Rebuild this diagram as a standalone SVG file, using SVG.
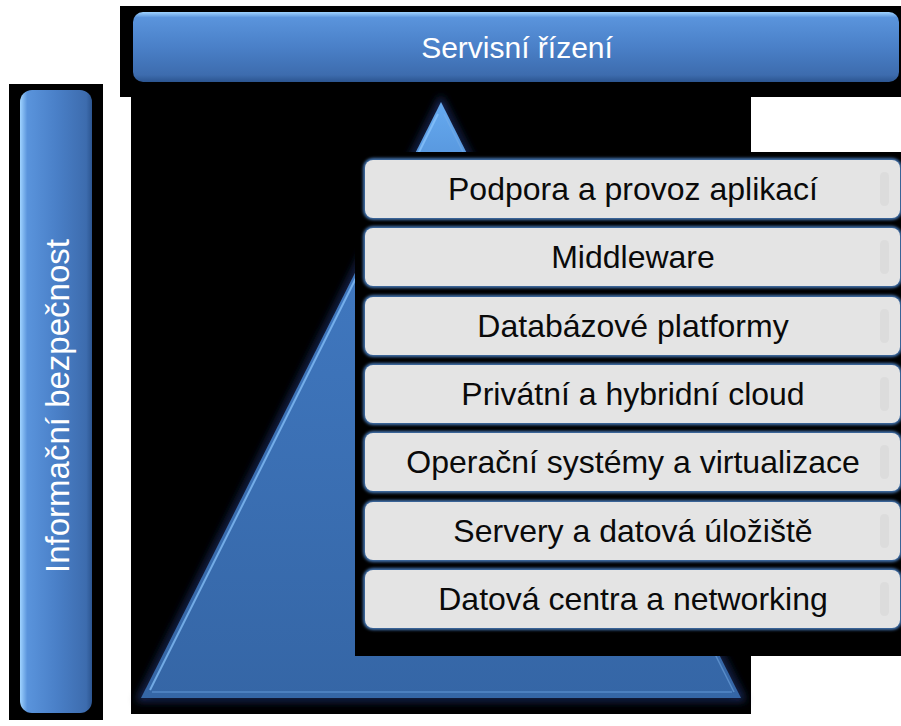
<svg xmlns="http://www.w3.org/2000/svg" width="901" height="726" viewBox="0 0 901 726">
<defs>
<style>
.bg{fill:#000}
.lbl{font-family:"Liberation Sans",Arial,sans-serif;font-size:32px;fill:#0a0a0a;text-anchor:middle}
.wlbl{font-family:"Liberation Sans",Arial,sans-serif;font-size:30px;fill:#fff;text-anchor:middle}
.vlbl{font-family:"Liberation Sans",Arial,sans-serif;font-size:33px;fill:#fff;text-anchor:middle}
.box{fill:#e4e4e4}
.boxglow{fill:none;stroke:#4d86cc;stroke-width:3.5;filter:url(#blur1)}
.shade{fill:#dcdcdc}
</style>
<linearGradient id="hbar" x1="0" y1="0" x2="0" y2="1">
 <stop offset="0" stop-color="#9fd3ff"/>
 <stop offset="0.08" stop-color="#5a94dc"/>
 <stop offset="0.5" stop-color="#4a80c8"/>
 <stop offset="0.9" stop-color="#3d6cae"/>
 <stop offset="1" stop-color="#2c5590"/>
</linearGradient>
<linearGradient id="vbar" x1="0" y1="0" x2="1" y2="0">
 <stop offset="0" stop-color="#9fd3ff"/>
 <stop offset="0.1" stop-color="#5a94dc"/>
 <stop offset="0.5" stop-color="#4a80c8"/>
 <stop offset="0.92" stop-color="#3d6cae"/>
 <stop offset="1" stop-color="#2c5590"/>
</linearGradient>
<linearGradient id="tri" x1="0" y1="0" x2="0" y2="1">
 <stop offset="0" stop-color="#66aaf0"/>
 <stop offset="0.25" stop-color="#4078c0"/>
 <stop offset="1" stop-color="#3566a6"/>
</linearGradient>
<filter id="blur1" x="-5%" y="-20%" width="110%" height="140%"><feGaussianBlur stdDeviation="1.5"/></filter>
<filter id="glow" x="-10%" y="-10%" width="120%" height="120%"><feGaussianBlur stdDeviation="4"/></filter>
</defs>
<rect x="0" y="0" width="901" height="726" fill="#fff"/>

<g id="servisni-rizeni">
 <rect class="bg" x="120" y="6" width="781" height="91"/>
 <rect x="133" y="12" width="766" height="70" rx="10" fill="url(#hbar)"/>
 <text class="wlbl" x="517" y="58">Servisní řízení</text>
</g>

<g id="informacni-bezpecnost">
 <rect class="bg" x="9" y="84" width="94" height="636"/>
 <rect x="20" y="90" width="72" height="623" rx="12" fill="url(#vbar)"/>
 <text class="vlbl" transform="translate(69,406) rotate(-90)" x="0" y="0">Informační bezpečnost</text>
</g>

<g id="pyramid">
 <rect class="bg" x="131" y="97" width="620" height="617"/>
 <polygon points="441,102 741,698 141,698" fill="none" stroke="#1b2f66" stroke-width="6" filter="url(#glow)"/>
 <polygon points="441,102 741,698 141,698" fill="url(#tri)"/>
 <line x1="438" y1="114" x2="150" y2="690" stroke="#8cc8ff" stroke-width="2" opacity="0.7"/>
 <line x1="152" y1="692" x2="732" y2="692" stroke="#5a90d0" stroke-width="2" opacity="0.6"/>
 <line x1="444" y1="114" x2="734" y2="692" stroke="#7ab0e8" stroke-width="1.5" opacity="0.5"/>
</g>

<g id="layers">
 <rect class="bg" x="355" y="152" width="546" height="504"/>
</g>

<g id="layer-1">
 <rect class="boxglow" x="365" y="160" width="535" height="58" rx="8"/>
 <rect class="box" x="365" y="160" width="535" height="58" rx="8"/>
 <rect class="shade" x="880" y="172" width="9" height="34" rx="4.5"/>
 <text class="lbl" x="633" y="200">Podpora a provoz aplikací</text>
</g>
<g id="layer-2">
 <rect class="boxglow" x="365" y="228" width="535" height="58" rx="8"/>
 <rect class="box" x="365" y="228" width="535" height="58" rx="8"/>
 <rect class="shade" x="880" y="240" width="9" height="34" rx="4.5"/>
 <text class="lbl" x="633" y="268">Middleware</text>
</g>
<g id="layer-3">
 <rect class="boxglow" x="365" y="297" width="535" height="58" rx="8"/>
 <rect class="box" x="365" y="297" width="535" height="58" rx="8"/>
 <rect class="shade" x="880" y="309" width="9" height="34" rx="4.5"/>
 <text class="lbl" x="633" y="337">Databázové platformy</text>
</g>
<g id="layer-4">
 <rect class="boxglow" x="365" y="365" width="535" height="58" rx="8"/>
 <rect class="box" x="365" y="365" width="535" height="58" rx="8"/>
 <rect class="shade" x="880" y="377" width="9" height="34" rx="4.5"/>
 <text class="lbl" x="633" y="405">Privátní a hybridní cloud</text>
</g>
<g id="layer-5">
 <rect class="boxglow" x="365" y="433" width="535" height="58" rx="8"/>
 <rect class="box" x="365" y="433" width="535" height="58" rx="8"/>
 <rect class="shade" x="880" y="445" width="9" height="34" rx="4.5"/>
 <text class="lbl" x="633" y="473">Operační systémy a virtualizace</text>
</g>
<g id="layer-6">
 <rect class="boxglow" x="365" y="502" width="535" height="58" rx="8"/>
 <rect class="box" x="365" y="502" width="535" height="58" rx="8"/>
 <rect class="shade" x="880" y="514" width="9" height="34" rx="4.5"/>
 <text class="lbl" x="633" y="542">Servery a datová úložiště</text>
</g>
<g id="layer-7">
 <rect class="boxglow" x="365" y="570" width="535" height="58" rx="8"/>
 <rect class="box" x="365" y="570" width="535" height="58" rx="8"/>
 <rect class="shade" x="880" y="582" width="9" height="34" rx="4.5"/>
 <text class="lbl" x="633" y="610">Datová centra a networking</text>
</g>
</svg>
